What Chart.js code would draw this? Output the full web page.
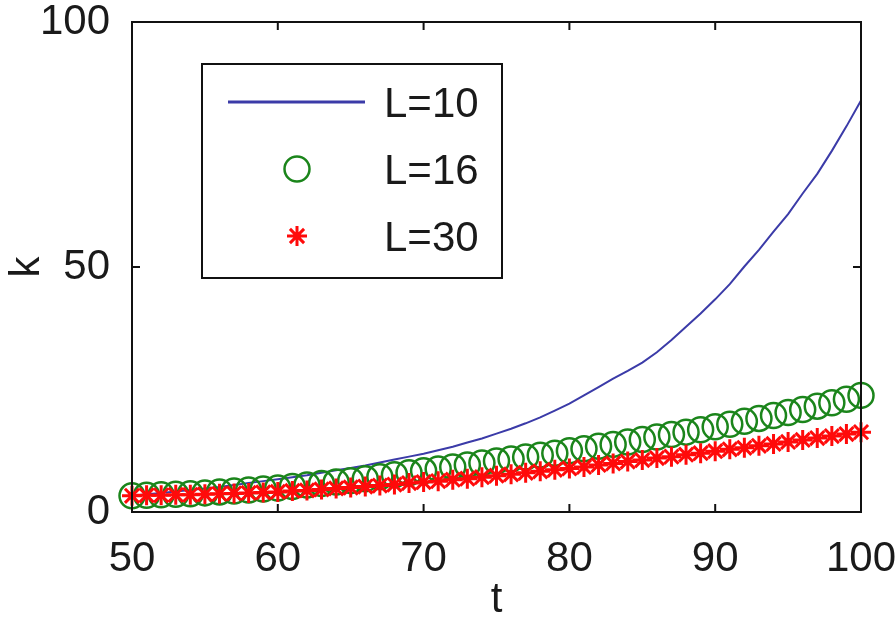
<!DOCTYPE html>
<html>
<head>
<meta charset="utf-8">
<script src="https://cdn.jsdelivr.net/npm/chart.js@4.4.1/dist/chart.umd.min.js"></script>
<style>
  body { margin: 0; background: #fff; }
  canvas { display: block; }
</style>
</head>
<body>
<canvas id="chart" width="896" height="628"></canvas>
<script>
// t values, one point per integer step
const tValues = [50, 51, 52, 53, 54, 55, 56, 57, 58, 59, 60, 61, 62, 63, 64, 65, 66, 67, 68, 69,
  70, 71, 72, 73, 74, 75, 76, 77, 78, 79, 80, 81, 82, 83, 84, 85, 86, 87, 88, 89,
  90, 91, 92, 93, 94, 95, 96, 97, 98, 99, 100];

// k
const kL10 = [3.3, 3.6, 3.9, 4.2, 4.5, 4.8, 5.1, 5.5, 5.9, 6.3, 6.7, 7.1, 7.5, 8.0, 8.5, 9.0, 9.5, 10.1, 10.7, 11.3,
  11.9, 12.6, 13.3, 14.2, 15.0, 16.0, 17.0, 18.1, 19.3, 20.7, 22.1, 23.8, 25.5, 27.2, 28.8, 30.5, 32.6, 35.1, 37.8, 40.5,
  43.4, 46.5, 50.1, 53.5, 57.2, 60.8, 65.0, 69.0, 73.7, 78.7, 84.0];
const kL16 = [3.3, 3.4, 3.5, 3.6, 3.7, 3.9, 4.1, 4.3, 4.5, 4.7, 4.9, 5.2, 5.5, 5.8, 6.1, 6.4, 6.8, 7.2, 7.6, 8.0,
  8.4, 8.8, 9.2, 9.6, 10.0, 10.4, 10.8, 11.2, 11.6, 12.0, 12.5, 12.9, 13.4, 13.8, 14.3, 14.8, 15.3, 15.8, 16.3, 16.8,
  17.4, 17.9, 18.5, 19.1, 19.7, 20.3, 20.9, 21.6, 22.3, 23.0, 23.8];
const kL30 = [3.3, 3.4, 3.4, 3.5, 3.5, 3.6, 3.7, 3.8, 3.9, 4.0, 4.1, 4.3, 4.4, 4.6, 4.8, 5.0, 5.2, 5.4, 5.6, 5.9,
  6.1, 6.3, 6.6, 6.8, 7.1, 7.4, 7.7, 8.0, 8.3, 8.6, 8.9, 9.2, 9.6, 9.9, 10.3, 10.6, 11.0, 11.3, 11.7, 12.0,
  12.4, 12.8, 13.1, 13.5, 13.9, 14.3, 14.7, 15.1, 15.5, 15.9, 16.3];

const seriesLabels = ['L=10', 'L=16', 'L=30'];
const xTicks = [50, 60, 70, 80, 90, 100];
const yTicks = [0, 50, 100];

const toPoints = (ys) => tValues.map((t, i) => ({ x: t, y: ys[i] }));

Chart.defaults.font.family = "'Liberation Sans', Arial, sans-serif";
Chart.defaults.color = '#1a1a1a';

// box round the plot with inward ticks on all four sides
const frame = {
  id: 'frame',
  afterDatasetsDraw(chart) {
    const { ctx, chartArea: a, scales } = chart;
    const len = 8;
    ctx.save();
    ctx.strokeStyle = '#111';
    ctx.lineWidth = 2;
    ctx.strokeRect(a.left, a.top, a.right - a.left, a.bottom - a.top);
    ctx.beginPath();
    xTicks.forEach(v => {
      const px = scales.x.getPixelForValue(v);
      ctx.moveTo(px, a.bottom); ctx.lineTo(px, a.bottom - len);
      ctx.moveTo(px, a.top); ctx.lineTo(px, a.top + len);
    });
    yTicks.forEach(v => {
      const py = scales.y.getPixelForValue(v);
      ctx.moveTo(a.left, py); ctx.lineTo(a.left + len, py);
      ctx.moveTo(a.right, py); ctx.lineTo(a.right - len, py);
    });
    ctx.stroke();
    ctx.restore();
  }
};

// boxed legend inside the plot, upper left
const boxLegend = {
  id: 'boxLegend',
  afterDraw(chart) {
    const { ctx, chartArea: a } = chart;
    const bx = a.left + 70, by = a.top + 42, bw = 300, bh = 214;
    ctx.save();
    ctx.fillStyle = '#fff';
    ctx.fillRect(bx, by, bw, bh);
    ctx.strokeStyle = '#111';
    ctx.lineWidth = 2;
    ctx.strokeRect(bx, by, bw, bh);
    ctx.font = "42px 'Liberation Sans', Arial, sans-serif";
    ctx.textBaseline = 'middle';
    chart.data.datasets.forEach((ds, i) => {
      const cy = by + 38 + i * 67;
      const sx = bx + 95;
      if (ds.showLine === false) {
        ctx.strokeStyle = ds.borderColor;
        ctx.fillStyle = 'rgba(0,0,0,0)';
        ctx.lineWidth = ds.borderWidth;
        Chart.helpers.drawPoint(ctx, {
          pointStyle: ds.pointStyle, radius: ds.pointRadius, rotation: 0,
          borderWidth: ds.borderWidth
        }, sx, cy);
      } else {
        ctx.strokeStyle = ds.borderColor;
        ctx.lineWidth = ds.borderWidth + 1;
        ctx.beginPath();
        ctx.moveTo(bx + 26, cy); ctx.lineTo(bx + 163, cy);
        ctx.stroke();
      }
      ctx.fillStyle = '#1a1a1a';
      ctx.fillText(ds.label, bx + 182, cy + 3);
    });
    ctx.restore();
  }
};

new Chart(document.getElementById('chart'), {
  type: 'scatter',
  data: {
    datasets: [{
      label: seriesLabels[0],
      data: toPoints(kL10),
      showLine: true,
      borderColor: '#3b3ba8',
      borderWidth: 2,
      pointRadius: 0,
      tension: 0,
      order: 3,
      clip: false
    }, {
      label: seriesLabels[1],
      data: toPoints(kL16),
      showLine: false,
      pointStyle: 'circle',
      pointRadius: 12.5,
      borderColor: '#1b851b',
      backgroundColor: 'rgba(0,0,0,0)',
      borderWidth: 2.5,
      order: 2,
      clip: false
    }, {
      label: seriesLabels[2],
      data: toPoints(kL30),
      showLine: false,
      pointStyle: 'star',
      pointRadius: 10,
      borderColor: '#ff0a0a',
      backgroundColor: '#ff0a0a',
      borderWidth: 3,
      order: 1,
      clip: false
    }]
  },
  options: {
    responsive: false,
    animation: false,
    layout: {
      padding: { left: 0, top: 22, right: 35, bottom: 0 }
    },
    plugins: {
      legend: { display: false },
      tooltip: { enabled: false }
    },
    scales: {
      x: {
        type: 'linear',
        min: 50,
        max: 100,
        afterFit: (scale) => {
          scale.height = 116;
          scale.paddingLeft = 0;
          scale.paddingRight = 0;
        },
        afterBuildTicks: (scale) => { scale.ticks = xTicks.map(v => ({ value: v })); },
        grid: { display: false },
        border: { display: false },
        ticks: { font: { size: 42 }, padding: 14, maxRotation: 0 },
        title: { display: true, text: 't', font: { size: 42 }, padding: { top: 0, bottom: 2 } }
      },
      y: {
        type: 'linear',
        min: 0,
        max: 100,
        afterFit: (scale) => {
          scale.width = 132;
          scale.paddingTop = 0;
          scale.paddingBottom = 0;
        },
        afterBuildTicks: (scale) => { scale.ticks = yTicks.map(v => ({ value: v })); },
        grid: { display: false },
        border: { display: false },
        ticks: { font: { size: 42 }, padding: 14 },
        title: { display: true, text: 'k', font: { size: 42 }, padding: { top: 2, bottom: 0 } }
      }
    }
  },
  plugins: [frame, boxLegend]
});
</script>
</body>
</html>
